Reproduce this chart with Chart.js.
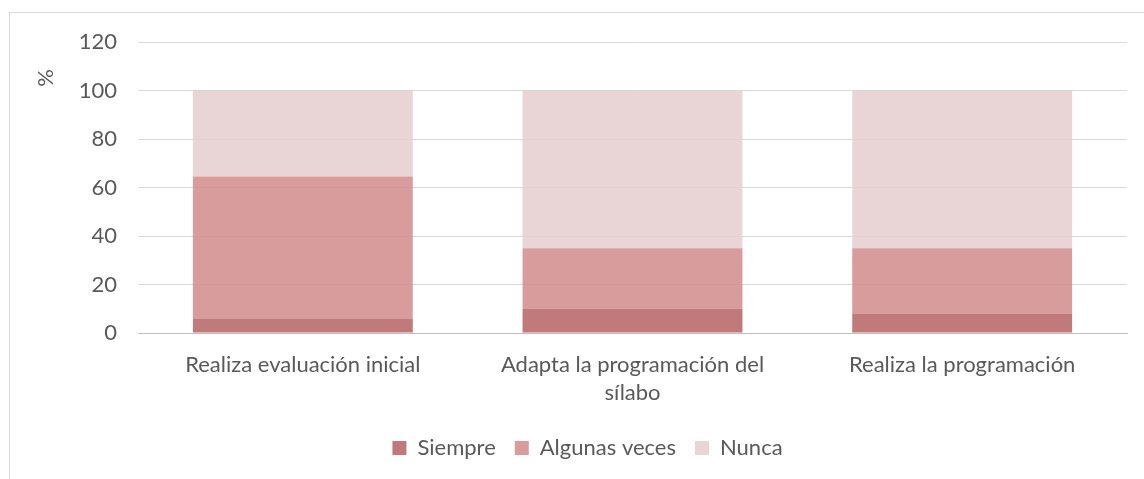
<!DOCTYPE html>
<html>
<head>
<meta charset="utf-8">
<script src="https://cdn.jsdelivr.net/npm/chart.js@4"></script>
<style>
  html, body { margin: 0; padding: 0; background: #fff; overflow: hidden; }
  #frame { position: absolute; left: 9px; top: 12px; width: 1140px; height: 470px; border: 1px solid #D9D9D9; }
  #wrap { position: absolute; left: 0; top: 0; width: 1144px; height: 479px; }
</style>
</head>
<body>
<div id="frame"></div>
<div id="wrap"><canvas id="chart" width="1144" height="479"></canvas></div>
<script>
// datos del gráfico
var categories = [
    "Realiza evaluación inicial",
    ["Adapta la programación del", "sílabo"],
    "Realiza la programación"
];
var siempre = [6, 10, 8];
var algunasVeces = [58.5, 25, 27];
var nunca = [35.5, 65, 65];
var yTicks = [0, 20, 40, 60, 80, 100, 120];

var fontFamily = "Lato, 'Open Sans', sans-serif";
var fontSize = 22;
var textColor = "#595959";

// título del eje Y ("%") arriba, como en Excel
var percentTitle = {
    id: "percentTitle",
    afterDraw: function(chart) {
        var ctx = chart.ctx;
        ctx.save();
        ctx.translate(46, 78);
        ctx.rotate(-Math.PI / 2);
        ctx.font = fontSize + "px " + fontFamily;
        ctx.fillStyle = textColor;
        ctx.textAlign = "center";
        ctx.textBaseline = "middle";
        ctx.fillText("%", 0, 0);
        ctx.restore();
    }
};

function createChart() {
    var ctx = document.getElementById("chart").getContext("2d");

    var data = {
        labels: categories,
        datasets: [
            { label: "Siempre", data: siempre, backgroundColor: "rgba(181,99,97,0.85)" },
            { label: "Algunas veces", data: algunasVeces, backgroundColor: "rgba(210,139,139,0.85)" },
            { label: "Nunca", data: nunca, backgroundColor: "rgba(229,206,206,0.85)" }
        ]
    };

    new Chart(ctx, {
        type: "bar",
        data: data,
        options: {
            responsive: false,
            animation: false,
            layout: { padding: { left: 48, right: 17, top: 42, bottom: 10 } },
            datasets: {
                bar: { categoryPercentage: 1, barPercentage: 0.667, borderWidth: 0 }
            },
            scales: {
                x: {
                    stacked: true,
                    grid: { display: false, drawTicks: false },
                    border: { color: "#BFBFBF", width: 1 },
                    ticks: {
                        color: textColor,
                        font: { family: fontFamily, size: fontSize, lineHeight: 1.27 },
                        padding: 18,
                        maxRotation: 0
                    },
                    afterFit: function(scale) { scale.height = 85; }
                },
                y: {
                    stacked: true,
                    min: 0,
                    max: 120,
                    afterBuildTicks: function(scale) {
                        scale.ticks = yTicks.map(function(v) { return { value: v }; });
                    },
                    grid: { color: "#D9D9D9", drawTicks: false },
                    border: { display: false },
                    ticks: {
                        color: textColor,
                        font: { family: fontFamily, size: fontSize },
                        padding: 21
                    },
                    afterFit: function(scale) { scale.width = 90; }
                },
            },
            plugins: {
                legend: {
                    position: "bottom",
                    labels: {
                        color: textColor,
                        font: { family: fontFamily, size: fontSize },
                        boxWidth: 14,
                        boxHeight: 14,
                        padding: 19
                    }
                },
                tooltip: { enabled: false }
            }
        },
        plugins: [percentTitle]
    });
}

createChart();
</script>
</body>
</html>
